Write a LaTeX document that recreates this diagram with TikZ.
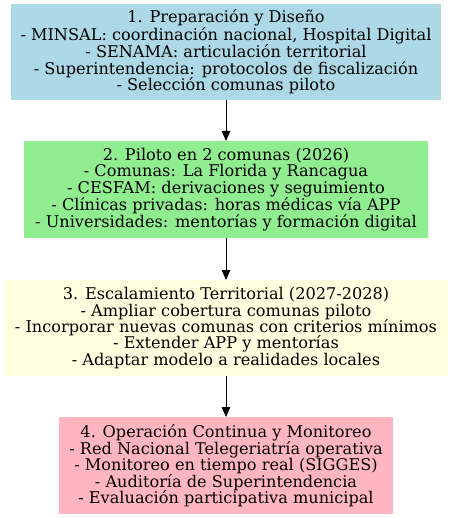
\documentclass[tikz,border=0pt]{standalone}
\usepackage{fontspec}
\setmainfont{DejaVu Serif}
\usetikzlibrary{arrows.meta}
\definecolor{cblue}{RGB}{173,216,230}
\definecolor{cgreen}{RGB}{144,238,144}
\definecolor{cyellow}{RGB}{255,255,224}
\definecolor{cpink}{RGB}{255,182,193}
\tikzset{
  stage/.style={rectangle, inner sep=0pt, outer sep=0pt, align=center,
    font=\fontsize{16.2}{16.4}\selectfont, text=black},
  link/.style={-{Triangle[length=10bp,width=8.5bp]}, line width=1bp, black}
}
\begin{document}
\begin{tikzpicture}[x=1bp,y=-1bp]
\useasboundingbox (0,0) rectangle (452,518);
\node[stage, fill=cblue, minimum width=430bp, minimum height=96bp] (s1) at (226,52)
  {1. Preparación y Diseño\\- MINSAL: coordinación nacional, Hospital Digital\\- SENAMA: articulación territorial\\- Superintendencia: protocolos de fiscalización\\- Selección comunas piloto};
\node[stage, fill=cgreen, minimum width=404bp, minimum height=97bp] (s2) at (226,189.5)
  {2. Piloto en 2 comunas (2026)\\- Comunas: La Florida y Rancagua\\- CESFAM: derivaciones y seguimiento\\- Clínicas privadas: horas médicas vía APP\\- Universidades: mentorías y formación digital};
\node[stage, fill=cyellow, minimum width=444bp, minimum height=96bp] (s3) at (226,328)
  {3. Escalamiento Territorial (2027-2028)\\- Ampliar cobertura comunas piloto\\- Incorporar nuevas comunas con criterios mínimos\\- Extender APP y mentorías\\- Adaptar modelo a realidades locales};
\node[stage, fill=cpink, minimum width=334bp, minimum height=97bp] (s4) at (226,465.5)
  {4. Operación Continua y Monitoreo\\- Red Nacional Telegeriatría operativa\\- Monitoreo en tiempo real (SIGGES)\\- Auditoría de Superintendencia\\- Evaluación participativa municipal};
\draw[link] (s1) -- (s2);
\draw[link] (s2) -- (s3);
\draw[link] (s3) -- (s4);
\end{tikzpicture}
\end{document}
